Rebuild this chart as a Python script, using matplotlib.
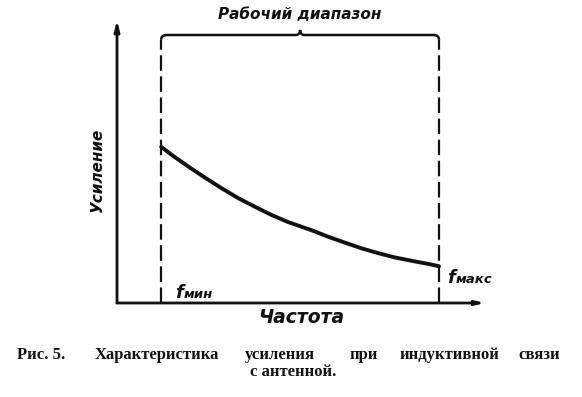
import matplotlib
matplotlib.use("Agg")
import matplotlib.pyplot as plt
from matplotlib.path import Path
from matplotlib.patches import PathPatch

# кривая усиления (условные единицы)
freq = [1.2, 1.49, 1.94, 2.39, 2.85, 3.30, 3.75, 4.20, 4.65, 5.29,
        5.74, 6.20, 6.65, 7.10, 7.55, 8.01, 8.46, 8.75]
gain = [5.52, 5.23, 4.82, 4.43, 4.05, 3.70, 3.40, 3.11, 2.86, 2.57,
        2.34, 2.13, 1.93, 1.76, 1.61, 1.49, 1.38, 1.30]
f_min = 1.2
f_max = 8.75

title_range = "Рабочий диапазон"
ylabel = "Усиление"
xlabel = "Частота"
lbl_min = "мин"
lbl_max = "макс"
caption1 = ["Рис. 5.", "Характеристика", "усиления", "при", "индуктивной", "связи"]
caption2 = "с антенной."

W, H = 582, 397
fig = plt.figure(figsize=(W / 100, H / 100), dpi=100)
ax = fig.add_axes([117 / W, (H - 303) / H, 368 / W, 283 / H])
ax.set_xlim(0, 10)
ax.set_ylim(0, 10)
ax.axis("off")

ink = "#111111"
lab = dict(color=ink, fontweight="bold", fontstyle="italic", family="DejaVu Sans")

# оси со стрелками
ax.annotate("", xy=(0, 1), xytext=(0, 0), xycoords="axes fraction",
            arrowprops=dict(arrowstyle="-|>,head_length=0.6,head_width=0.15",
                            lw=2, color=ink, shrinkA=0, shrinkB=0))
ax.annotate("", xy=(1, 0), xytext=(0, 0), xycoords="axes fraction",
            arrowprops=dict(arrowstyle="-|>,head_length=0.5,head_width=0.12",
                            lw=2, color=ink, shrinkA=0, shrinkB=0))

# границы диапазона
top = 9.3
for f in (f_min, f_max):
    ax.plot([f, f], [0, top], color=ink, lw=1.6, dashes=(7, 2.5),
            solid_capstyle="butt")

# фигурная скобка
mid = (f_min + f_max) / 2
yb, yt, r = 9.47, 9.65, 0.15
verts = [(f_min, top), (f_min, yb), (f_min + r, yb),
         (mid - 0.12, yb), (mid, yb), (mid, yt),
         (mid, yb), (mid + 0.12, yb),
         (f_max - r, yb), (f_max, yb), (f_max, top)]
codes = [Path.MOVETO, Path.CURVE3, Path.CURVE3,
         Path.LINETO, Path.CURVE3, Path.CURVE3,
         Path.CURVE3, Path.CURVE3,
         Path.LINETO, Path.CURVE3, Path.CURVE3]
ax.add_patch(PathPatch(Path(verts, codes), fill=False, lw=1.8, ec=ink,
                       clip_on=False))

ax.plot(freq, gain, color=ink, lw=2.8, solid_capstyle="round",
        solid_joinstyle="round")

ax.text(mid, 10.18, title_range, ha="center", va="center", clip_on=False,
        fontsize=11, **lab)
ax.text(-0.54, 4.7, ylabel, rotation=90, ha="center", va="center",
        fontsize=11, **lab)
ax.text(5.0, -0.53, xlabel, ha="center", va="center", fontsize=13.5, **lab)

ax.text(1.58, 0.18, "f", ha="left", va="baseline", fontsize=13, **lab)
ax.text(1.8, 0.18, lbl_min, ha="left", va="baseline", fontsize=9.5, **lab)
ax.text(8.97, 0.71, "f", ha="left", va="baseline", fontsize=13, **lab)
ax.text(9.19, 0.71, lbl_max, ha="left", va="baseline", fontsize=9.5, **lab)

# подпись
cap = dict(color=ink, fontsize=12, fontweight="bold", family="Liberation Serif",
           va="center", ha="left")
xs = [17, 95, 245, 350, 400, 518]
for x, w in zip(xs, caption1):
    fig.text(x / W, 1 - 355 / H, w, **cap)
fig.text(250 / W, 1 - 372 / H, caption2, **cap)

fig.savefig("out.png", dpi=100, facecolor="white")
